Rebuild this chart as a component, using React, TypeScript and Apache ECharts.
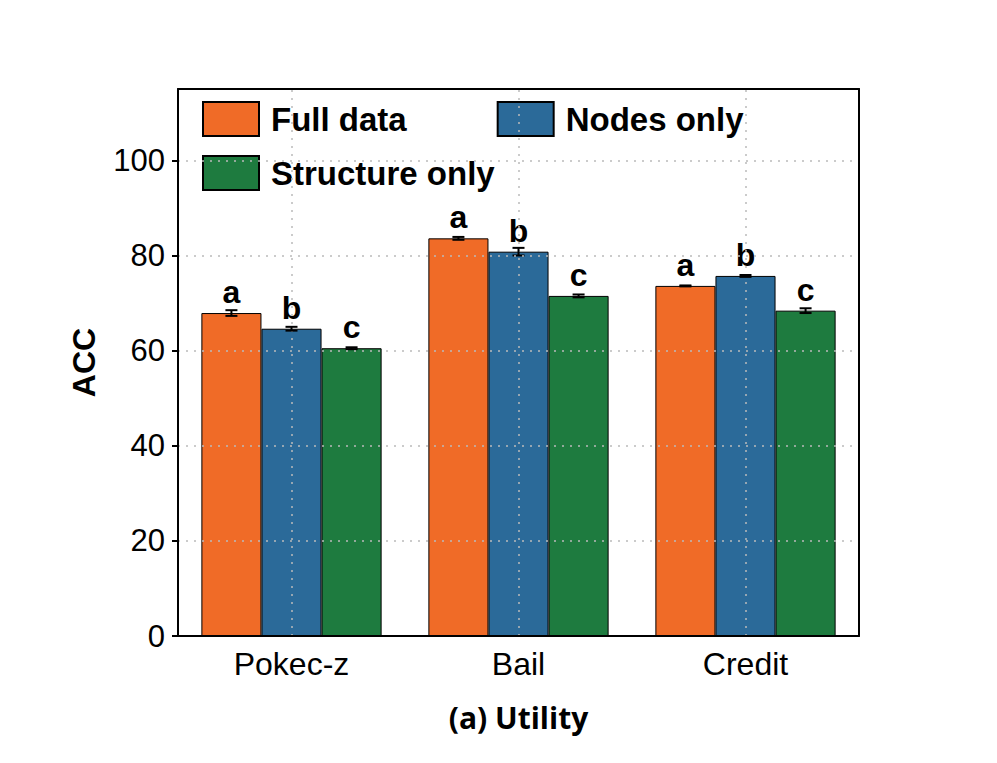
import React, { useEffect, useRef } from "react";
import * as echarts from "echarts";

const categories = ["Pokec-z", "Bail", "Credit"];
const seriesNames = ["Full data", "Nodes only", "Structure only"];
const fullData = [67.9, 83.6, 73.6];
const nodesOnly = [64.6, 80.8, 75.7];
const structureOnly = [60.5, 71.5, 68.4];
const fullErr = [0.6, 0.3, 0.1];
const nodesErr = [0.4, 0.8, 0.2];
const structureErr = [0.2, 0.3, 0.5];
const letters = ["a", "b", "c"];
const yTicks = [0, 20, 40, 60, 80, 100];
const colors = ["#F06B27", "#2B6A99", "#1E7B3F"];

const CAT_GAP = 0.206;
const FONT = "'Liberation Sans', Arial, sans-serif";

export default function App() {
  const ref = useRef<HTMLDivElement>(null);
  useEffect(() => {
    if (!ref.current) return;
    const chart = echarts.init(ref.current, undefined, { renderer: "svg" });
    const values = [fullData, nodesOnly, structureOnly];
    const errs = [fullErr, nodesErr, structureErr];

    const barSeries = values.map((vals, i) => ({
      name: seriesNames[i],
      type: "bar",
      data: vals,
      barGap: "0%",
      barCategoryGap: CAT_GAP * 100 + "%",
      z: 2,
      itemStyle: { color: colors[i], borderColor: "#000", borderWidth: 1 },
      label: {
        show: true,
        position: "top",
        distance: 5,
        formatter: () => letters[i],
        fontSize: 32,
        fontWeight: "bold",
        color: "#000",
        fontFamily: FONT,
      },
    }));

    const errSeries = values.map((vals, i) => ({
      name: "err" + i,
      type: "custom",
      z: 5,
      silent: true,
      data: vals.map((v, k) => [k, v, errs[i][k]]),
      renderItem: (params: any, api: any) => {
        const idx = api.value(0);
        const mean = api.value(1);
        const e = api.value(2);
        const band = api.size([1, 0])[0];
        const bw = (band * (1 - CAT_GAP)) / 3;
        const off = (i - 1) * bw;
        const hi = api.coord([idx, mean + e]);
        const lo = api.coord([idx, mean - e]);
        const x = hi[0] + off;
        const cw = 6;
        const style = { stroke: "#000", lineWidth: 2 };
        return {
          type: "group",
          children: [
            { type: "line", shape: { x1: x, y1: hi[1], x2: x, y2: lo[1] }, style },
            { type: "line", shape: { x1: x - cw, y1: hi[1], x2: x + cw, y2: hi[1] }, style },
            { type: "line", shape: { x1: x - cw, y1: lo[1], x2: x + cw, y2: lo[1] }, style },
          ],
        };
      },
    }));

    const gridLineSeries = {
      name: "vgrid",
      type: "line",
      data: [],
      z: 1,
      silent: true,
      markLine: {
        silent: true,
        symbol: "none",
        label: { show: false },
        lineStyle: { color: "#bbbbbb", type: [2, 6], width: 1.5 },
        data: categories.map((c) => ({ xAxis: c })),
      },
    };

    const legendText = {
      fontSize: 33,
      fontWeight: "bold",
      color: "#000",
      fontFamily: FONT,
      padding: [0, 0, 0, 7],
    };

    const frameLine = { show: true, onZero: false, lineStyle: { color: "#000", width: 2 } };

    chart.setOption({
      animation: false,
      grid: {
        left: 178,
        right: 138,
        top: 89,
        bottom: 127,
        show: false,
      },
      legend: [
        {
          data: ["Full data", "Nodes only"],
          left: 202,
          top: 101,
          padding: 0,
          itemWidth: 56,
          itemHeight: 34,
          itemGap: 90,
          icon: "rect",
          textStyle: legendText,
        },
        {
          data: ["Structure only"],
          left: 202,
          top: 155,
          padding: 0,
          itemWidth: 56,
          itemHeight: 34,
          icon: "rect",
          textStyle: legendText,
        },
      ],
      xAxis: [
        {
          type: "category",
          data: categories,
          axisLine: frameLine,
          axisTick: { show: false },
          splitLine: { show: false },
          axisLabel: { fontSize: 32, color: "#000", margin: 12, fontFamily: FONT },
          name: "(a) Utility",
          nameLocation: "middle",
          nameGap: 66,
          nameTextStyle: { fontSize: 30, fontWeight: "bold", color: "#000", fontFamily: "'Open Sans', sans-serif" },
          z: 10,
        },
        {
          type: "category",
          data: categories,
          position: "top",
          axisLine: frameLine,
          axisTick: { show: false },
          axisLabel: { show: false },
          splitLine: { show: false },
          z: 10,
        },
      ],
      yAxis: [
        {
          type: "value",
          min: 0,
          max: 115,
          interval: 20,
          axisLine: frameLine,
          axisTick: { show: true, inside: false, length: 6, lineStyle: { color: "#000", width: 2 }, customValues: yTicks },
          splitLine: { show: true, lineStyle: { color: "#bbbbbb", type: [2, 6], width: 1.5 } },
          axisLabel: {
            fontSize: 31,
            color: "#000",
            margin: 13,
            fontFamily: FONT,
            customValues: yTicks,
          },
          name: "ACC",
          nameLocation: "middle",
          nameGap: 78,
          nameRotate: 90,
          nameTextStyle: { fontSize: 32, fontWeight: "bold", color: "#000", fontFamily: FONT },
          z: 10,
        },
        {
          type: "value",
          min: 0,
          max: 115,
          position: "right",
          axisLine: frameLine,
          axisTick: { show: false },
          axisLabel: { show: false },
          splitLine: { show: false },
          z: 10,
        },
      ],
      series: [gridLineSeries, ...barSeries, ...errSeries],
    });
    return () => chart.dispose();
  }, []);
  return (
    <div
      ref={ref}
      style={{ position: "fixed", left: 0, top: 0, width: 997, height: 763, background: "#fff" }}
    />
  );
}
